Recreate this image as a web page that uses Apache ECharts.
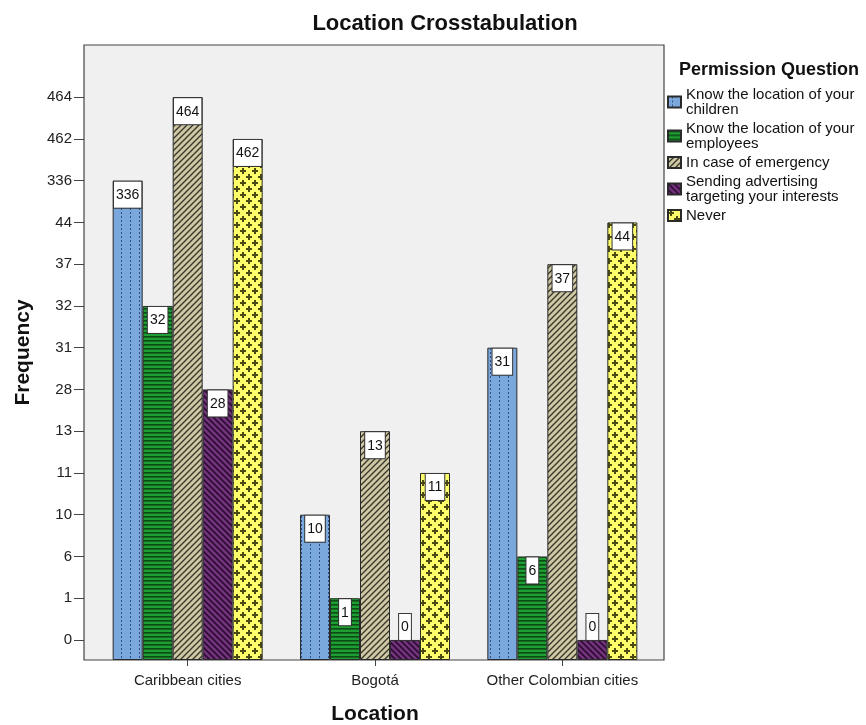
<!DOCTYPE html>
<html><head><meta charset="utf-8">
<script src="https://cdn.jsdelivr.net/npm/echarts@6/dist/echarts.min.js"></script>
<style>html,body{margin:0;padding:0;background:#fff}#c{width:866px;height:725px}</style>
</head><body><div id="c"></div>
<script>
// ---- data ----
const categories = ['Caribbean cities', 'Bogotá', 'Other Colombian cities'];
// Frequency axis is ordinal: each listed value occupies one evenly spaced step
const tickLabels = [0, 1, 6, 10, 11, 13, 28, 31, 32, 37, 44, 336, 462, 464];
const seriesNames = ['Know the location of your children', 'Know the location of your employees', 'In case of emergency', 'Sending advertising targeting your interests', 'Never'];
const children = [336, 10, 31];
const employees = [32, 1, 6];
const emergency = [464, 13, 37];
const advertising = [28, 0, 0];
const never = [462, 11, 44];

// ---- presentation ----
const BASE = 0.48; // axis floor sits half a step below the first tick
const FONT = 'Liberation Sans, Arial, sans-serif';

function tile(w, h, bg, draw) {
  const c = document.createElement('canvas');
  c.width = w; c.height = h;
  const g = c.getContext('2d');
  g.fillStyle = bg; g.fillRect(0, 0, w, h);
  draw(g);
  return { image: c, repeat: 'repeat' };
}
const patBlue = tile(9, 4, '#7ba8dc', g => { g.fillStyle = '#2f4f80'; g.fillRect(4, 0, 1, 2); });
const patGreen = tile(4, 4, '#1f9e33', g => { g.fillStyle = '#0c4a16'; g.fillRect(0, 0, 4, 1.6); });
const patTan = tile(6, 6, '#cfc8a4', g => {
  g.strokeStyle = '#35342a'; g.lineWidth = 1.3;
  g.beginPath(); g.moveTo(-1, 7); g.lineTo(7, -1); g.moveTo(-1, 1); g.lineTo(1, -1); g.moveTo(5, 7); g.lineTo(7, 5); g.stroke();
});
const patPurple = tile(6, 6, '#74337e', g => {
  g.strokeStyle = '#2c0c31'; g.lineWidth = 1.6;
  g.beginPath(); g.moveTo(-1, -1); g.lineTo(7, 7); g.moveTo(-1, 5); g.lineTo(1, 7); g.moveTo(5, -1); g.lineTo(7, 1); g.stroke();
});
const patYellow = tile(12, 12, '#ffff6c', g => {
  g.fillStyle = '#4a4a12';
  const plus = (x, y) => { g.fillRect(x - 3, y - 1, 6, 2); g.fillRect(x - 1, y - 3, 2, 6); };
  plus(3, 3); plus(9, 9);
});
const patterns = [patBlue, patGreen, patTan, patPurple, patYellow];
const values = [children, employees, emergency, advertising, never];

const legendNames = {
  'Know the location of your children': 'Know the location of your\nchildren',
  'Know the location of your employees': 'Know the location of your\nemployees',
  'In case of emergency': 'In case of emergency',
  'Sending advertising targeting your interests': 'Sending advertising\ntargeting your interests',
  'Never': 'Never'
};

const series = seriesNames.map((name, si) => ({
  name,
  type: 'bar',
  barWidth: 30,
  barGap: '0%',
  itemStyle: { color: patterns[si], borderColor: '#2a2a2a', borderWidth: 1 },
  label: {
    show: true, position: 'insideTop', distance: 1,
    formatter: p => String(values[si][p.dataIndex]),
    backgroundColor: '#fff', borderColor: '#333', borderWidth: 1,
    padding: [6, 2, 5, 2], fontSize: 14, lineHeight: 15, color: '#111', fontFamily: FONT
  },
  data: values[si].map(v => {
    const idx = tickLabels.indexOf(v);
    const item = { value: idx + BASE };
    if (idx === 0) item.label = { position: 'top', distance: 0 };
    return item;
  })
}));

const chart = echarts.init(document.getElementById('c'), null, { renderer: 'canvas' });
chart.setOption({
  backgroundColor: '#fff',
  animation: false,
  title: [
    { text: 'Location Crosstabulation', left: 440, top: 8, textAlign: 'center',
      textStyle: { fontFamily: FONT, fontSize: 22, fontWeight: 'bold', color: '#111' } },
    { text: 'Permission Question', left: 674, top: 56,
      textStyle: { fontFamily: FONT, fontSize: 18, fontWeight: 'bold', color: '#111' } }
  ],
  legend: {
    orient: 'vertical', left: 662, top: 82,
    itemWidth: 13, itemHeight: 11, itemGap: 4,
    icon: 'rect',
    formatter: n => legendNames[n] || n,
    textStyle: { fontFamily: FONT, fontSize: 15, lineHeight: 15, color: '#111' },
    selectedMode: false
  },
  graphic: [{
    type: 'rect', z: -1,
    shape: { x: 84, y: 45, width: 580, height: 615 },
    style: { fill: '#f0f0f0', stroke: '#444', lineWidth: 1.2 }
  }],
  grid: { left: 94, right: 210, top: 45, bottom: 65, containLabel: false, outerBoundsMode: 'none' },
  xAxis: {
    type: 'category', data: categories,
    axisLine: { show: false },
    axisTick: { show: true, alignWithLabel: true, length: 6, lineStyle: { color: '#444' } },
    axisLabel: { interval: 0, hideOverlap: false, fontFamily: FONT, fontSize: 15, color: '#222', margin: 13 },
    name: 'Location', nameLocation: 'middle', nameGap: 44,
    nameTextStyle: { fontFamily: FONT, fontSize: 21, fontWeight: 'bold', color: '#111' }
  },
  yAxis: {
    type: 'value', min: 0, max: 14.73, offset: 10,
    splitLine: { show: false },
    axisLine: { show: false },
    axisTick: { show: true, length: 10, lineStyle: { color: '#444' }, customValues: tickLabels.map((_, i) => i + BASE) },
    axisLabel: { fontFamily: FONT, fontSize: 15, color: '#222', margin: 12,
      customValues: tickLabels.map((_, i) => i + BASE),
      formatter: v => String(tickLabels[Math.round(v - BASE)]) },
    name: 'Frequency', nameLocation: 'middle', nameGap: 50, nameRotate: 90,
    nameTextStyle: { fontFamily: FONT, fontSize: 21, fontWeight: 'bold', color: '#111' }
  },
  series
});
</script>
</body></html>
